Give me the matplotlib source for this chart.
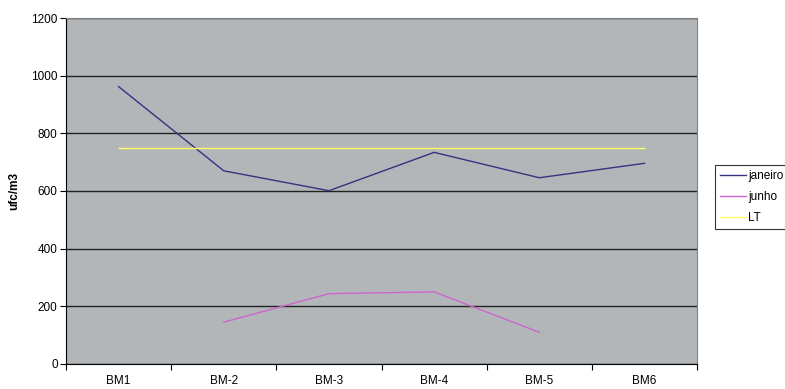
import numpy as np
import matplotlib
matplotlib.use("Agg")
import matplotlib.pyplot as plt

plt.rcParams['font.family'] = ['Liberation Sans', 'DejaVu Sans']

categories = ["BM1", "BM-2", "BM-3", "BM-4", "BM-5", "BM6"]
janeiro = [962, 670, 601, 734, 646, 696]
junho = [np.nan, 145, 244, 250, 110, np.nan]
lt = [750, 750, 750, 750, 750, 750]

fig = plt.figure(figsize=(7.85, 3.89), dpi=100)
ax = fig.add_axes([0.0841, 0.0643, 0.8039, 0.8894])
ax.set_facecolor("#b3b6b9")

x = np.arange(len(categories)) + 0.5
ax.plot(x, janeiro, color="#33337f", lw=1.0, label="janeiro")
ax.plot(x, junho, color="#cc66cc", lw=1.0, label="junho")
ax.plot(x, lt, color="#ffff66", lw=1.0, label="LT")

ax.set_xlim(0, len(categories))
ax.set_ylim(0, 1200)
ax.set_yticks(range(0, 1201, 200))
ax.yaxis.grid(True, color="#222222", lw=1.0)
ax.set_axisbelow(True)

# ticks at category boundaries, labels at centers
ax.set_xticks(np.arange(len(categories) + 1))
ax.set_xticklabels([])
ax.set_xticks(x, minor=True)
ax.set_xticklabels(categories, minor=True, fontsize=8.5)
ax.tick_params(axis="x", which="minor", length=0, pad=8)
ax.tick_params(axis="x", which="major", length=4, direction="out", color="black")
ax.tick_params(axis="y", length=4, direction="out", labelsize=8.5, pad=2)

for side in ["left", "bottom"]:
    ax.spines[side].set_color("black")
for side in ["top", "right"]:
    ax.spines[side].set_color("#808080")

ax.set_ylabel("ufc/m3", fontsize=8.5, fontweight="bold", labelpad=8)

leg = fig.legend(loc="upper left", bbox_to_anchor=(715 / 785, 1 - 165 / 389),
                 fontsize=8.5, frameon=True, fancybox=False, handlelength=2.2,
                 handletextpad=0.15, borderpad=0.45, labelspacing=0.75,
                 borderaxespad=0)
leg.get_frame().set_edgecolor("black")
leg.get_frame().set_linewidth(0.8)

fig.savefig("out.png", dpi=100)
